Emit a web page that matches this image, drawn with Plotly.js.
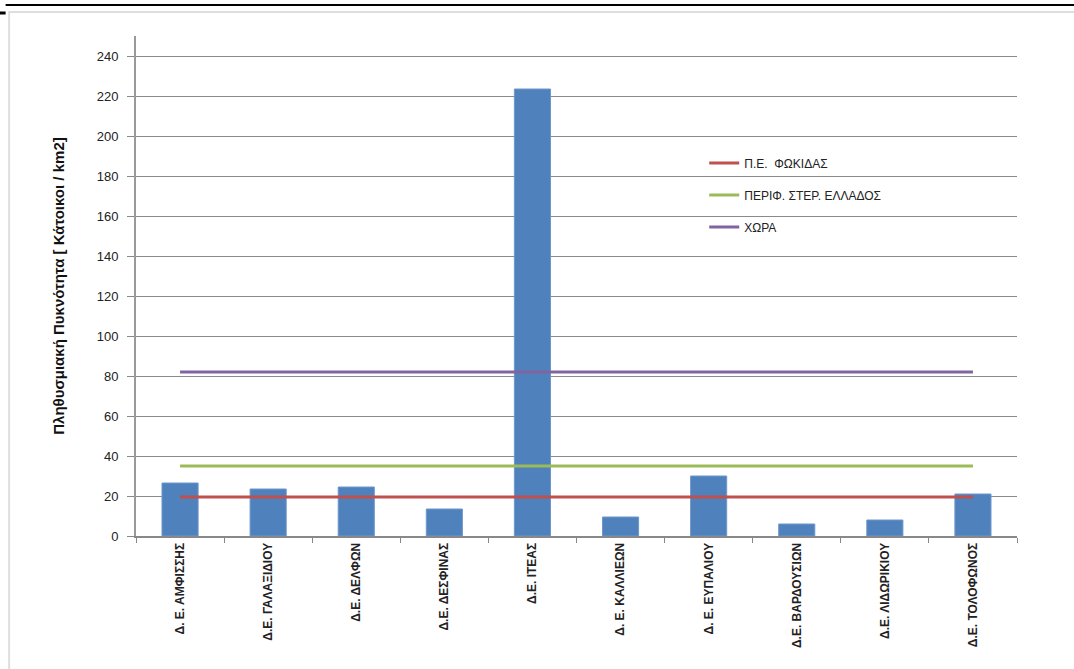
<!DOCTYPE html>
<html>
<head>
<meta charset="utf-8">
<script src="https://cdn.plot.ly/plotly-3.0.1.min.js"></script>
<style>html,body{margin:0;padding:0;background:#fff;}#chart{width:1074px;height:669px;}</style>
</head>
<body>
<div id="chart"></div>
<script>
const categories = ["Δ. Ε. ΑΜΦΙΣΣΗΣ", "Δ.Ε. ΓΑΛΑΞΙΔΙΟΥ", "Δ.Ε. ΔΕΛΦΩΝ", "Δ.Ε. ΔΕΣΦΙΝΑΣ", "Δ.Ε. ΙΤΕΑΣ",
  "Δ. Ε. ΚΑΛΛΙΕΩΝ", "Δ. Ε. ΕΥΠΑΛΙΟΥ", "Δ.Ε. ΒΑΡΔΟΥΣΙΩΝ", "Δ.Ε. ΛΙΔΩΡΙΚΙΟΥ", "Δ.Ε. ΤΟΛΟΦΩΝΟΣ"];
const density = [26.5, 23.5, 24.5, 13.5, 223.5, 9.5, 30, 6, 8, 21];
const peFokidas = [19.5, 19.5, 19.5, 19.5, 19.5, 19.5, 19.5, 19.5, 19.5, 19.5];
const perifStEllados = [35, 35, 35, 35, 35, 35, 35, 35, 35, 35];
const xora = [82, 82, 82, 82, 82, 82, 82, 82, 82, 82];
const yTicks = [0, 20, 40, 60, 80, 100, 120, 140, 160, 180, 200, 220, 240];

const font = "Liberation Sans Narrow, Arial Narrow, Liberation Sans, sans-serif";

const traces = [
  {type: "bar", x: categories, y: density, marker: {color: "#4F81BD", line: {color: "#6f97cc", width: 1}},
   showlegend: false, hoverinfo: "x+y"},
  {type: "scatter", mode: "lines", x: categories, y: peFokidas, name: "Π.Ε.  ΦΩΚΙΔΑΣ",
   line: {color: "#C0504D", width: 3}, legendgroup: "a"},
  {type: "scatter", mode: "lines", x: categories, y: perifStEllados, name: "ΠΕΡΙΦ. ΣΤΕΡ. ΕΛΛΑΔΟΣ",
   line: {color: "#9BBB59", width: 3}, legendgroup: "b"},
  {type: "scatter", mode: "lines", x: categories, y: xora, name: "ΧΩΡΑ",
   line: {color: "#8064A2", width: 3}, legendgroup: "c"}
];

const layout = {
  width: 1074, height: 669,
  margin: {l: 136, r: 57, t: 36, b: 133},
  paper_bgcolor: "#fff", plot_bgcolor: "#fff",
  font: {family: font, size: 11, color: "#222"},
  bargap: 0.59,
  xaxis: {
    type: "category", tickangle: -90, tickson: "boundaries",
    ticks: "outside", ticklen: 5, tickcolor: "#888",
    showline: true, linecolor: "#888", linewidth: 2,
    showgrid: false, tickfont: {family: font, size: 12, color: "#222", weight: "bold"},
    fixedrange: true
  },
  yaxis: {
    range: [0, 250], tickvals: yTicks, ticktext: yTicks.map(String),
    ticks: "outside", ticklen: 7, tickcolor: "#888", ticklabelstandoff: 6,
    showline: true, linecolor: "#999", linewidth: 2,
    showgrid: true, gridcolor: "#8a8a8a", gridwidth: 1,
    zeroline: false,
    tickfont: {family: font, size: 13, color: "#222"},
    title: {text: "Πληθυσμιακή Πυκνότητα [ Κάτοικοι / km2]", font: {family: font, size: 15, color: "#111", weight: "bold"}, standoff: 28},
    fixedrange: true
  },
  legend: {
    x: 0.645, y: 0.775, xanchor: "left", yanchor: "top",
    bgcolor: "rgba(0,0,0,0)", tracegroupgap: 13,
    font: {family: "Liberation Sans, Arial, sans-serif", size: 12, color: "#222"}
  },
  shapes: [
    {type: "rect", xref: "paper", yref: "paper", x0: -0.144, x1: 1.07, y0: -0.3, y1: 1.048,
     line: {color: "#dedede", width: 2}, layer: "below"},
    {type: "line", xref: "paper", yref: "paper", x0: -0.148, x1: 1.07, y0: 1.062, y1: 1.062,
     line: {color: "#000", width: 2}},
    {type: "line", xref: "paper", yref: "paper", x0: -0.16, x1: -0.148, y0: 1.046, y1: 1.046,
     line: {color: "#000", width: 3}}
  ]
};

Plotly.newPlot("chart", traces, layout, {displayModeBar: false, staticPlot: true});
</script>
</body>
</html>
